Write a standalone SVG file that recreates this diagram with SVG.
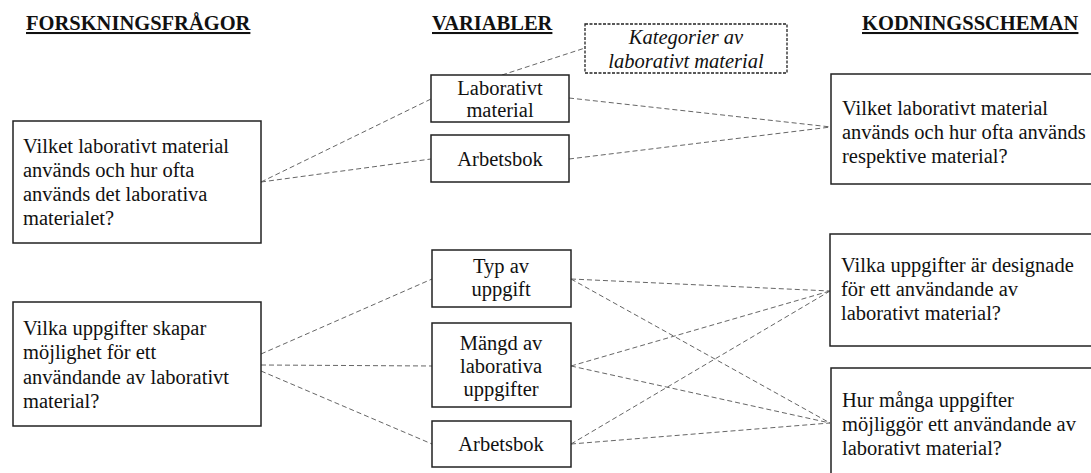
<svg xmlns="http://www.w3.org/2000/svg" width="1091" height="473" viewBox="0 0 1091 473">
<style>
text{font-family:"Liberation Serif","Times New Roman",serif;font-size:20.5px;fill:#111}
.h{font-weight:bold;text-decoration:underline}
.box{fill:#fff;stroke:#222;stroke-width:1.5}
.dbox{fill:#fff;stroke:#222;stroke-width:1.3;stroke-dasharray:3 1.5}
.c{text-anchor:middle}
.i{font-style:italic}
#connectors line{stroke:#666;stroke-width:1;stroke-dasharray:5 3;fill:none}
</style>
<rect width="1091" height="473" fill="#fff"/>
<g id="headings">
<text class="h" x="26" y="30">FORSKNINGSFRÅGOR</text>
<text class="h" x="432" y="30">VARIABLER</text>
<text class="h" x="862" y="30">KODNINGSSCHEMAN</text>
</g>
<g id="connectors">
<line x1="502" y1="75" x2="585" y2="48"/>
<line x1="261" y1="182" x2="431" y2="99"/>
<line x1="261" y1="182" x2="431" y2="159"/>
<line x1="569" y1="98" x2="831" y2="127"/>
<line x1="569" y1="159" x2="831" y2="127"/>
<line x1="261" y1="354" x2="432" y2="279"/>
<line x1="261" y1="365" x2="432" y2="366"/>
<line x1="261" y1="371" x2="432" y2="444"/>
<line x1="571" y1="279" x2="830" y2="291"/>
<line x1="571" y1="279" x2="830" y2="423"/>
<line x1="571" y1="366" x2="830" y2="291"/>
<line x1="571" y1="366" x2="830" y2="423"/>
<line x1="571" y1="444" x2="830" y2="291"/>
<line x1="571" y1="444" x2="830" y2="423"/>
</g>
<g id="q1">
<rect class="box" x="13" y="121" width="248" height="122"/>
<text x="23" y="153">Vilket laborativt material</text>
<text x="23" y="177">används och hur ofta</text>
<text x="23" y="201">används det laborativa</text>
<text x="23" y="225">materialet?</text>
</g>
<g id="q2">
<rect class="box" x="13" y="302" width="248" height="124"/>
<text x="23" y="335">Vilka uppgifter skapar</text>
<text x="23" y="359">möjlighet för ett</text>
<text x="23" y="384">användande av laborativt</text>
<text x="23" y="408">material?</text>
</g>
<g id="kategorier">
<rect class="dbox" x="585" y="24" width="202" height="49"/>
<text class="c i" x="686" y="44">Kategorier av</text>
<text class="c i" x="686" y="68">laborativt material</text>
</g>
<g id="v-lab">
<rect class="box" x="431" y="75" width="138" height="47"/>
<text class="c" x="500" y="95">Laborativt</text>
<text class="c" x="500" y="117">material</text>
</g>
<g id="v-arb1">
<rect class="box" x="431" y="135" width="138" height="47"/>
<text class="c" x="500" y="166">Arbetsbok</text>
</g>
<g id="v-typ">
<rect class="box" x="432" y="250" width="139" height="57"/>
<text class="c" x="501" y="273">Typ av</text>
<text class="c" x="501" y="296">uppgift</text>
</g>
<g id="v-mangd">
<rect class="box" x="432" y="323" width="139" height="84"/>
<text class="c" x="501" y="350">Mängd av</text>
<text class="c" x="501" y="373">laborativa</text>
<text class="c" x="501" y="396">uppgifter</text>
</g>
<g id="v-arb2">
<rect class="box" x="432" y="421" width="139" height="46"/>
<text class="c" x="501" y="451">Arbetsbok</text>
</g>
<g id="k1">
<rect class="box" x="831" y="74" width="270" height="110"/>
<text x="842" y="115">Vilket laborativt material</text>
<text x="842" y="139">används och hur ofta används</text>
<text x="842" y="163">respektive material?</text>
</g>
<g id="k2">
<rect class="box" x="830" y="234" width="270" height="112"/>
<text x="841" y="272">Vilka uppgifter är designade</text>
<text x="841" y="296">för ett användande av</text>
<text x="841" y="320">laborativt material?</text>
</g>
<g id="k3">
<rect class="box" x="831" y="368" width="270" height="120"/>
<text x="842" y="407">Hur många uppgifter</text>
<text x="842" y="431">möjliggör ett användande av</text>
<text x="842" y="455">laborativt material?</text>
</g>
</svg>
